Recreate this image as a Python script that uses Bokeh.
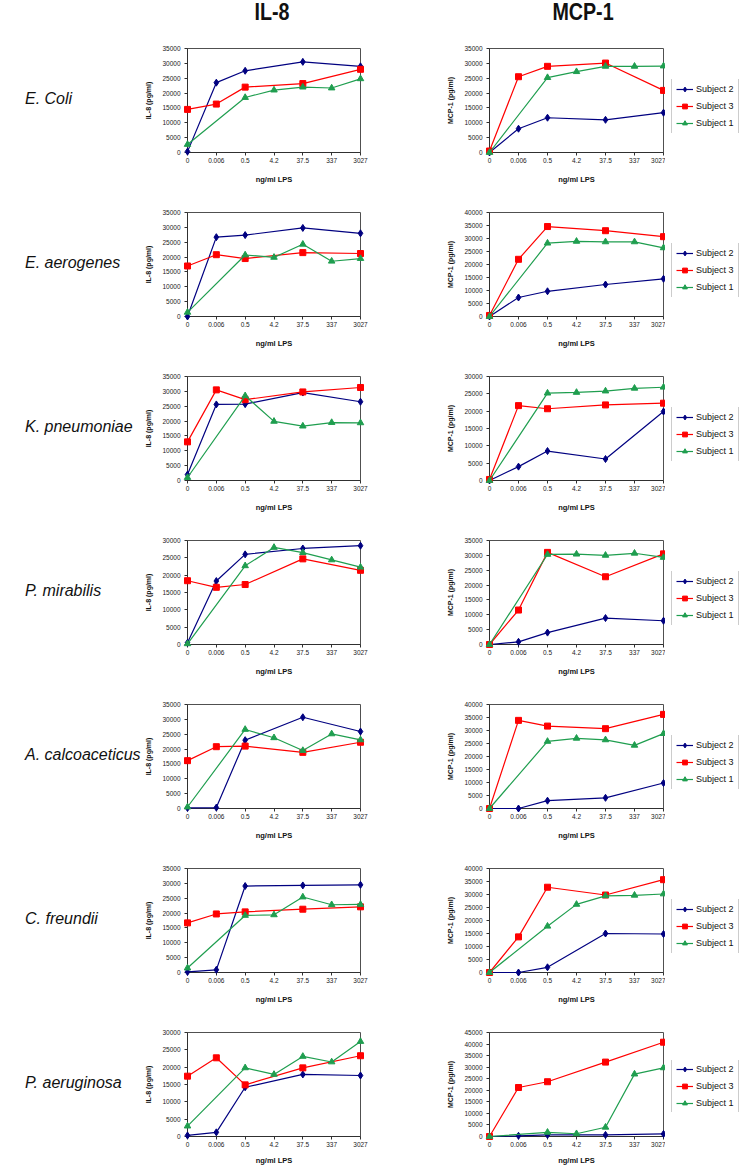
from bokeh.plotting import figure
from bokeh.models import Range1d, FixedTicker, Legend, LegendItem, Div, NumeralTickFormatter
from bokeh.layouts import column, row
from bokeh.embed import file_html
from bokeh.resources import INLINE

# ---------------- data ----------------
doses = ["0", "0.006", "0.5", "4.2", "37.5", "337", "3027"]
x_subj23 = [0, 1, 2, 4, 6]          # dose indices measured for Subjects 2 and 3
x_subj1 = [0, 2, 3, 4, 5, 6]        # dose indices measured for Subject 1

species = ["E. Coli", "E. aerogenes", "K. pneumoniae", "P. mirabilis",
           "A. calcoaceticus", "C. freundii", "P. aeruginosa"]
subjects = ["Subject 2", "Subject 3", "Subject 1"]

il8_ymax = [35000, 35000, 35000, 30000, 35000, 35000, 30000]
mcp_ymax = [35000, 40000, 30000, 35000, 40000, 40000, 45000]

il8_subject2 = [
    [300, 23500, 27500, 30500, 29000],
    [0, 26700, 27400, 29800, 28000],
    [2000, 25600, 25700, 29600, 26500],
    [500, 18300, 26000, 27700, 28500],
    [200, 300, 23000, 30700, 25900],
    [200, 900, 29100, 29300, 29500],
    [300, 1200, 14200, 17900, 17600],
]
il8_subject3 = [
    [14500, 16300, 22000, 23200, 28000],
    [17000, 20800, 19500, 21500, 21200],
    [13000, 30500, 27200, 29800, 31300],
    [18400, 16500, 17300, 24700, 21400],
    [16100, 20800, 21000, 18900, 22300],
    [16700, 19700, 20400, 21300, 22100],
    [17400, 22700, 14900, 19800, 23300],
]
il8_subject1 = [
    [2700, 18500, 21000, 22000, 21700, 24800],
    [1400, 20700, 19900, 24300, 18600, 19500],
    [1000, 28500, 19900, 18300, 19500, 19400],
    [200, 22700, 28000, 26500, 24400, 22300],
    [500, 26600, 23800, 19500, 25100, 23100],
    [1500, 19200, 19400, 25400, 22800, 22900],
    [3000, 19800, 17900, 23100, 21500, 27400],
]

mcp_subject2 = [
    [0, 8000, 11700, 11000, 13400],
    [0, 7300, 9700, 12300, 14500],
    [0, 4000, 8500, 6200, 19900],
    [0, 900, 4000, 8900, 8000],
    [0, 0, 3000, 4100, 9800],
    [0, 0, 2000, 15000, 14800],
    [0, 300, 700, 700, 1100],
]
mcp_subject3 = [
    [500, 25500, 29000, 30100, 20900],
    [400, 22000, 34600, 33000, 30700],
    [300, 21600, 20700, 21800, 22300],
    [0, 11600, 31000, 22800, 30500],
    [0, 33900, 31700, 30700, 36200],
    [0, 13700, 32800, 29800, 35700],
    [0, 21200, 23700, 32200, 40800],
]
mcp_subject1 = [
    [0, 25200, 27200, 29000, 29000, 29100],
    [0, 28200, 28900, 28700, 28700, 26400],
    [0, 25200, 25400, 25800, 26600, 26900],
    [0, 30300, 30400, 30000, 30700, 29300],
    [0, 25800, 27000, 26400, 24300, 28800],
    [0, 17800, 26200, 29500, 29700, 30200],
    [0, 1800, 1200, 4000, 27000, 29700],
]

# ---------------- style ----------------
FONT = "Liberation Sans"
C_S2 = "#000080"
C_S3 = "#ff0000"
C_S1 = "#1f9e4f"
STYLES = [  # (color, marker, size) for Subject 2, Subject 3, Subject 1
    (C_S2, "diamond", 7),
    (C_S3, "square", 6),
    (C_S1, "triangle", 6.5),
]
FRAME_H = 104
TOP = 24
LEG_W = 82
N = len(species)


def make_panel(ylabel, ymax, s2, s3, s1, left, fw, right, bottom, xlab_standoff):
    p = figure(frame_width=fw, frame_height=FRAME_H,
               x_range=Range1d(0, len(doses) - 1), y_range=Range1d(0, ymax),
               output_backend="svg", toolbar_location=None, title_location=None,
               min_border_left=left, min_border_right=right,
               min_border_top=TOP, min_border_bottom=bottom,
               background_fill_color="white", border_fill_color="white")
    p.margin = 0
    p.xgrid.visible = False
    p.ygrid.visible = False
    p.outline_line_color = "#505050"
    p.outline_line_width = 1

    p.xaxis.ticker = FixedTicker(ticks=list(range(len(doses))))
    p.xaxis.major_label_overrides = {i: d for i, d in enumerate(doses)}
    p.yaxis.ticker = FixedTicker(ticks=list(range(0, ymax + 1, 5000)))
    p.yaxis.formatter = NumeralTickFormatter(format="0")
    for ax in (p.xaxis, p.yaxis):
        ax.axis_line_color = "#303030"
        ax.major_tick_line_color = "#303030"
        ax.major_tick_out = 3
        ax.major_tick_in = 0
        ax.minor_tick_line_color = None
        ax.major_label_text_font = FONT
        ax.major_label_text_font_size = "6.5px"
        ax.major_label_text_color = "#222222"
        ax.axis_label_text_font = FONT
        ax.axis_label_text_font_style = "bold"
        ax.axis_label_text_color = "#111111"
    p.xaxis.major_label_standoff = 2
    p.yaxis.major_label_standoff = 4
    p.xaxis.axis_label = "ng/ml LPS"
    p.xaxis.axis_label_text_font_size = "7.5px"
    p.xaxis.axis_label_standoff = xlab_standoff
    p.yaxis.axis_label = ylabel
    p.yaxis.axis_label_text_font_size = "7px"
    p.yaxis.axis_label_standoff = 7

    for xs, ys, (c, mk, sz) in zip([x_subj23, x_subj23, x_subj1], [s2, s3, s1], STYLES):
        p.line(xs, ys, line_color=c, line_width=1.2, level="overlay")
        p.scatter(xs, ys, marker=mk, size=sz, fill_color=c, line_color=c, level="overlay")
    return p


def make_legend_box(h, s2, s3, s1):
    # legend-only canvas: the series are bound to renderers whose x-range lies
    # outside the data, so only their legend swatches are visible
    lp = figure(frame_width=LEG_W, frame_height=h, output_backend="svg",
                toolbar_location=None, title_location=None,
                x_axis_location=None, y_axis_location=None,
                min_border_left=0, min_border_right=0,
                min_border_top=0, min_border_bottom=0,
                x_range=Range1d(-20, -10), y_range=Range1d(0, 1),
                background_fill_color="white", border_fill_color="white")
    lp.margin = 0
    lp.outline_line_color = None
    lp.xgrid.visible = False
    lp.ygrid.visible = False
    items = []
    for name, xs, ys, (c, mk, sz) in zip(subjects, [x_subj23, x_subj23, x_subj1],
                                          [s2, s3, s1], STYLES):
        r_line = lp.line(xs, ys, line_color=c, line_width=1.2)
        r_mark = lp.scatter(xs, ys, marker=mk, size=sz, fill_color=c, line_color=c)
        items.append(LegendItem(label=name, renderers=[r_line, r_mark]))
    lg = Legend(items=items, location="left")
    lg.label_text_font = FONT
    lg.label_text_font_size = "9px"
    lg.label_text_color = "#111111"
    lg.glyph_width = 17
    lg.glyph_height = 12
    lg.label_height = 12
    lg.label_standoff = 3
    lg.spacing = 5
    lg.padding = 4
    lg.margin = 6
    lg.border_line_color = "#9a9a9a"
    lg.border_line_width = 1
    lg.background_fill_color = "white"
    lg.background_fill_alpha = 1
    lp.add_layout(lg)
    return lp


title_html = (
    '<div style="position:relative;width:748px;height:24px;">'
    '<span style="position:absolute;top:0px;left:272px;transform:translateX(-50%) scaleX(0.82);'
    "font-family:'Liberation Sans',Arial,sans-serif;font-weight:bold;font-size:24px;"
    'line-height:24px;white-space:nowrap;color:#111;">IL-8</span>'
    '<span style="position:absolute;top:0px;left:583px;transform:translateX(-50%) scaleX(0.82);'
    "font-family:'Liberation Sans',Arial,sans-serif;font-weight:bold;font-size:24px;"
    'line-height:24px;white-space:nowrap;color:#111;">MCP-1</span>'
    '</div>'
)
titles = Div(text=title_html, width=742, height=24, margin=0,
             styles={"overflow": "visible"})

rows = [titles]
for i in range(N):
    last = i == N - 1
    bottom = 28 if last else 36
    standoff = 6 if last else 9
    h = TOP + FRAME_H + bottom
    lab = Div(
        text=('<div style="margin:64px 0 0 25px;font-family:\'Liberation Sans\',Arial,sans-serif;'
              'font-style:italic;font-size:16px;white-space:nowrap;color:#111;">'
              + species[i] + '</div>'),
        width=142, height=h, margin=0)
    p_il8 = make_panel("IL-8 (pg/ml)", il8_ymax[i], il8_subject2[i], il8_subject3[i],
                       il8_subject1[i], 44, 173, 71, bottom, standoff)
    p_mcp = make_panel("MCP-1 (pg/ml)", mcp_ymax[i], mcp_subject2[i], mcp_subject3[i],
                       mcp_subject1[i], 58, 174, 2, bottom, standoff)
    p_leg = make_legend_box(h, mcp_subject2[i], mcp_subject3[i], mcp_subject1[i])
    rows.append(row(lab, p_il8, p_mcp, p_leg, spacing=0))

layout = column(*rows, spacing=0)
open("out.html", "w").write(file_html(layout, INLINE))
